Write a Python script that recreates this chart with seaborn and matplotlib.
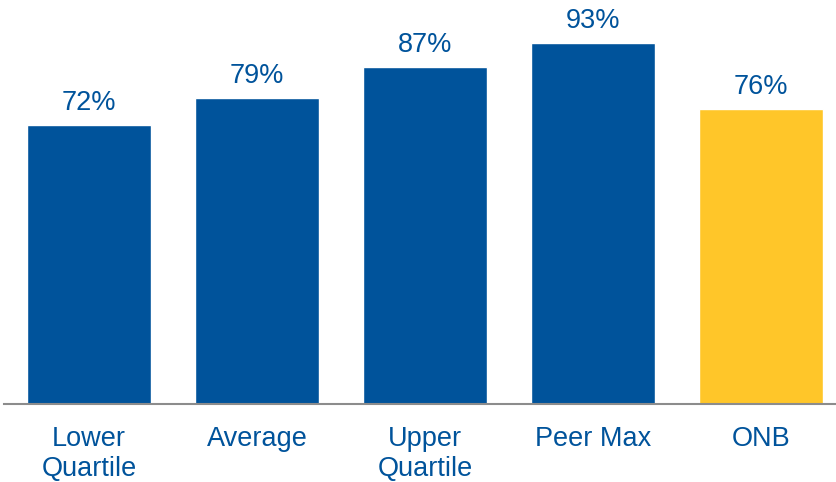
import matplotlib
matplotlib.use("Agg")
import matplotlib.pyplot as plt
import seaborn as sns
import pandas as pd

categories = ["Lower\nQuartile", "Average", "Upper\nQuartile", "Peer Max", "ONB"]
values = [72, 79, 87, 93, 76]
labels = ["72%", "79%", "87%", "93%", "76%"]
colors = ["#00539B", "#00539B", "#00539B", "#00539B", "#FFC629"]

sns.set_theme(style="white")
plt.rcParams['font.family'] = ['Liberation Sans', 'DejaVu Sans']

df = pd.DataFrame({"cat": categories, "val": values})

fig = plt.figure(figsize=(8.37, 4.82), dpi=100)
ax = fig.add_axes([0.005, (482 - 404) / 482, 0.995, 404 / 482])
sns.barplot(data=df, x="cat", y="val", hue="cat", palette=colors, legend=False,
            width=0.735, saturation=1, ax=ax)

for i, (v, t) in enumerate(zip(values, labels)):
    ax.annotate(t, (i, v), xytext=(0, 6.5), textcoords="offset points",
                ha="center", va="bottom", fontsize=19.5, color="#00539B")

ax.set_ylim(0, 104.2)
ax.set_xlim(-0.506, 4.452)
ax.set_xlabel("")
ax.set_ylabel("")
ax.set_yticks([])
for s in ["top", "right", "left"]:
    ax.spines[s].set_visible(False)
ax.spines["bottom"].set_color("#8C8C8C")
ax.spines["bottom"].set_linewidth(1.5)
ax.tick_params(axis="x", length=0, pad=15.5, labelsize=19.5, labelcolor="#00539B")
for lbl in ax.get_xticklabels():
    lbl.set_linespacing(1.22)

fig.savefig("out.png", dpi=100)
